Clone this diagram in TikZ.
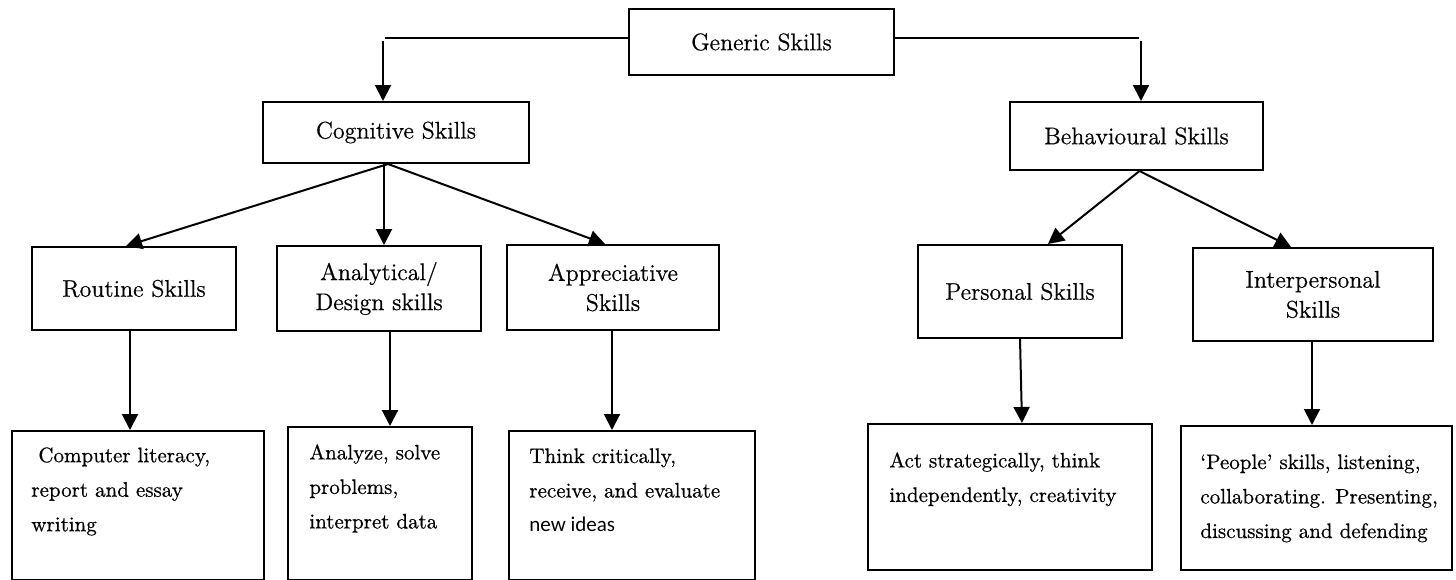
\documentclass[tikz,border=0pt]{standalone}
\usepackage{fontspec}
\setmainfont{Latin Modern Roman}[FakeBold=0.6]
\newfontfamily\carl{Carlito}
\usetikzlibrary{arrows.meta}
\tikzset{
  box/.style={draw, line width=1pt, inner sep=0pt, align=center, font=\fontsize{12}{15}\selectfont},
  leafbox/.style={draw, line width=1pt, inner sep=0pt},
  leaftext/.style={anchor=north west, inner sep=0pt, align=left, font=\fontsize{10.5}{17.25}\selectfont},
  conn/.style={line width=1pt},
  arr/.style={line width=1pt, -{Triangle[width=8pt,length=8pt]}}
}
\begin{document}
\begin{tikzpicture}[x=0.5pt, y=-0.5pt]
\useasboundingbox (0,0) rectangle (1456,579);
% level 0
\node[box, minimum width=132.5pt, minimum height=33pt] (gen) at (761.5,42) {Generic Skills};
% level 1
\node[box, minimum width=133pt, minimum height=30.5pt] (cog) at (396,132.5) {Cognitive Skills};
\node[box, minimum width=126.5pt, minimum height=34pt] (beh) at (1136.5,136) {Behavioural Skills};
% level 2
\node[box, minimum width=102pt, minimum height=41.5pt] (rout) at (134,288.5) {Routine Skills};
\node[box, minimum width=102pt, minimum height=42.5pt] (anal) at (379,288.5) {Analytical/\\Design skills};
\node[box, minimum width=106pt, minimum height=42.5pt] (appr) at (613,287.5) {Appreciative\\Skills};
\node[box, minimum width=102pt, minimum height=46.5pt] (pers) at (1020,291.5) {Personal Skills};
\node[box, minimum width=120pt, minimum height=46.5pt] (inter) at (1313,294.5) {Interpersonal\\Skills};
% level 3 boxes
\node[leafbox, minimum width=126pt, minimum height=74.5pt] (comp) at (138,505.5) {};
\node[leafbox, minimum width=92pt, minimum height=76.5pt] (anz) at (380,503.5) {};
\node[leafbox, minimum width=123pt, minimum height=74.5pt] (think) at (632,505.5) {};
\node[leafbox, minimum width=142pt, minimum height=73pt] (act) at (1010,497) {};
\node[leafbox, minimum width=135.5pt, minimum height=72pt] (ppl) at (1316.5,498) {};
% level 3 texts
\node[leaftext] (compT) at ([shift={(20,17)}]comp.north west) {\hspace*{3.5pt}Computer literacy,\\report and essay\\writing};
\node[leaftext] (anzT) at ([shift={(22,18)}]anz.north west) {Analyze, solve\\problems,\\interpret data};
\node[leaftext] (thinkT) at ([shift={(21,18)}]think.north west) {Think critically,\\receive, and evaluate\\{\carl new ideas}};
\node[leaftext] (actT) at ([shift={(22,29)}]act.north west) {Act strategically, think\\independently, creativity};
\node[leaftext] (pplT) at ([shift={(20,29)}]ppl.north west) {‘People’ skills, listening,\\collaborating. Presenting,\\discussing and defending};
% helper coordinates
\coordinate (gl) at ([shift={(-243,-4)}]gen.west);
\coordinate (gr) at ([shift={(244,-4)}]gen.east);
\coordinate (glv) at ([shift={(-2,3)}]gl);
\coordinate (grv) at ([shift={(2,3)}]gr);
\coordinate (cogv) at ([xshift=-6pt]cog.south);
\coordinate (cogd) at ([xshift=-4pt]cog.south);
\coordinate (behd) at ([xshift=1.5pt]beh.south);
\coordinate (routv) at ([xshift=-2pt]rout.south);
\coordinate (analv) at ([xshift=5.5pt]anal.south);
\coordinate (apprv) at ([xshift=-0.5pt]appr.south);
\coordinate (persv) at ([xshift=1pt]pers.south);
\coordinate (interv) at ([xshift=-0.5pt]inter.south);
% connectors level 0 -> 1
\draw[conn] ([yshift=2pt]gen.west) -- (gl);
\draw[arr] (glv) -- (glv |- cog.north);
\draw[conn] ([yshift=2pt]gen.east) -- (gr);
\draw[arr] (grv) -- (grv |- beh.north);
% cognitive children
\draw[arr] (cogd) -- ([xshift=-4pt]rout.north);
\draw[arr] (cogv) -- (cogv |- anal.north);
\draw[arr] (cogd) -- ([xshift=-4pt]appr.north);
% behavioural children
\draw[arr] (behd) -- ([xshift=14pt]pers.north);
\draw[arr] (behd) -- ([xshift=-11pt]inter.north);
% level 2 -> 3
\draw[arr] (routv) -- (routv |- comp.north);
\draw[arr] (analv) -- (analv |- anz.north);
\draw[arr] (apprv) -- (apprv |- think.north);
\draw[arr] (pers.south) -- (persv |- act.north);
\draw[arr] (interv) -- (interv |- ppl.north);
\end{tikzpicture}
\end{document}
